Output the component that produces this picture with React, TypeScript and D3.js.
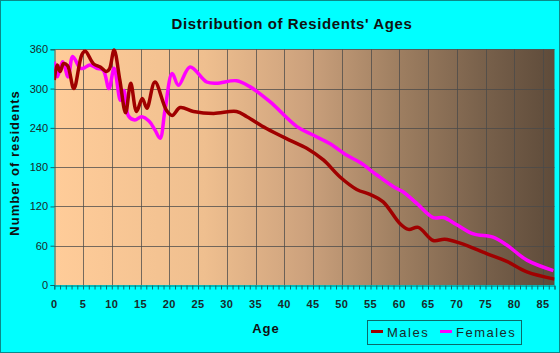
import React, { useEffect, useRef } from 'react';
import * as d3 from 'd3';

// values (age, residents)
const maleAges = [0, 0.5, 1, 1.6, 2.3, 3.4, 4.8, 5.4, 6.8, 8, 9.1, 9.6, 10.4, 11.4, 12.4, 13.3, 14.3, 15.3, 16.1, 17.5, 19.5, 20.5, 21.9, 24.2, 27.7, 31.7, 33.5, 36.9, 41, 43.9, 46.8, 49.7, 52.6, 55, 57.2, 60.1, 61.6, 63.3, 65.9, 67.9, 70.6, 75.2, 78.7, 82.2, 87];
const maleValues = [313, 336, 326, 338, 335, 300, 352, 357, 338, 333, 326, 330, 359, 313, 263, 308, 265, 285, 270, 310, 267, 259, 271, 265, 262, 265, 257, 239, 221, 209, 191, 165, 146, 138, 127, 94, 85, 88, 68, 70, 64, 48, 36, 20, 9];

const femaleAges = [0, 0.5, 1.45, 2.4, 3.2, 4.5, 5.05, 6.2, 7.4, 8.5, 9.5, 10.4, 11.5, 12.1, 12.9, 14, 15.2, 16.5, 17.5, 18.4, 19.25, 20.5, 21.6, 23.6, 26.5, 28.2, 31.7, 34, 37.5, 42.2, 45, 47.9, 50.9, 53.2, 56.1, 59, 60.7, 63, 65.9, 67.7, 70, 72.9, 76.3, 78.7, 82.2, 86.8];
const femaleValues = [341, 318, 341, 318, 349, 331, 331, 336, 331, 328, 300, 331, 282, 297, 258, 252, 257, 250, 237, 224, 267, 323, 305, 333, 310, 308, 312, 303, 280, 242, 229, 216, 198, 187, 168, 150, 142, 125, 103, 103, 92, 78, 73, 61, 38, 22];

const xTicks = [0, 5, 10, 15, 20, 25, 30, 35, 40, 45, 50, 55, 60, 65, 70, 75, 80, 85];
const yTicks = [0, 60, 120, 180, 240, 300, 360];
const seriesNames = ['Males', 'Females'];
const seriesColors = ['#a00000', '#ff00ff'];

const App: React.FC = () => {
  const svgRef = useRef<SVGSVGElement>(null);

  useEffect(() => {
    if (!svgRef.current) return;
    const svg = d3.select(svgRef.current);
    svg.selectAll('*').remove();

    const width = 560;
    const height = 353;
    const left = 54.3, right = 554.5, top = 49.3, bottom = 285;

    const x = d3.scaleLinear().domain([0, 87]).range([left, right]);
    const y = d3.scaleLinear().domain([0, 360]).range([bottom, top]);

    svg.attr('width', width).attr('height', height);

    // background
    svg.append('rect')
      .attr('x', 0.5).attr('y', 0.5)
      .attr('width', width - 1).attr('height', height - 1)
      .attr('fill', '#00ffff')
      .attr('stroke', '#0a8a8a');

    const defs = svg.append('defs');
    const grad = defs.append('linearGradient').attr('id', 'plotBg')
      .attr('x1', '0%').attr('x2', '100%').attr('y1', '0%').attr('y2', '0%');
    [
      ['0%', '#ffcc99'],
      ['30%', '#efbf8f'],
      ['50%', '#cda27d'],
      ['68%', '#a08062'],
      ['85%', '#7a624c'],
      ['100%', '#5e4b3a']
    ].forEach(([o, c]) => grad.append('stop').attr('offset', o).attr('stop-color', c));

    defs.append('clipPath').attr('id', 'plotClip')
      .append('rect')
      .attr('x', left).attr('y', top - 4)
      .attr('width', right - left).attr('height', bottom - top + 4);

    svg.append('rect')
      .attr('x', left).attr('y', top)
      .attr('width', right - left).attr('height', bottom - top)
      .attr('fill', 'url(#plotBg)');

    // grid
    const grid = svg.append('g').attr('stroke', '#4a4a4a').attr('stroke-opacity', 0.75).attr('stroke-width', 1);
    xTicks.filter(t => t > 0).forEach(t => {
      grid.append('line')
        .attr('x1', Math.round(x(t)) + 0.5).attr('x2', Math.round(x(t)) + 0.5)
        .attr('y1', top).attr('y2', bottom);
    });
    yTicks.filter(t => t > 0).forEach(t => {
      grid.append('line')
        .attr('x1', left).attr('x2', right)
        .attr('y1', Math.round(y(t)) + 0.5).attr('y2', Math.round(y(t)) + 0.5);
    });

    // axes
    const axisColor = '#0b6a6a';
    const xAxis = svg.append('g')
      .attr('transform', `translate(0,${Math.round(bottom) + 0.5})`)
      .call(d3.axisBottom(x).tickValues(d3.range(0, 88, 1)).tickSize(4).tickFormat(() => ''));
    xAxis.select('.domain').attr('stroke', axisColor);
    xAxis.selectAll('line').attr('stroke', axisColor);

    const yAxis = svg.append('g')
      .attr('transform', `translate(${Math.round(left) + 0.5},0)`)
      .call(d3.axisLeft(y).tickValues(yTicks).tickSize(4).tickFormat(() => ''));
    yAxis.select('.domain').attr('stroke', axisColor);
    yAxis.selectAll('line').attr('stroke', axisColor);

    const font = 'Liberation Sans, Arial, sans-serif';

    svg.append('g').selectAll('text')
      .data(yTicks).enter().append('text')
      .attr('x', 48).attr('y', d => y(d) + 4)
      .attr('text-anchor', 'end')
      .attr('font-family', font).attr('font-size', 11)
      .attr('fill', '#1a2a2a')
      .text(d => d);

    svg.append('g').selectAll('text')
      .data(xTicks).enter().append('text')
      .attr('x', d => x(d)).attr('y', 308)
      .attr('text-anchor', 'middle')
      .attr('font-family', font).attr('font-size', 11).attr('font-weight', 'bold')
      .attr('letter-spacing', 0.5)
      .attr('fill', '#1a2a2a')
      .text(d => d);

    // lines
    const line = d3.line<[number, number]>()
      .x(d => x(d[0])).y(d => y(d[1]))
      .curve(d3.curveCatmullRom.alpha(0.5));

    const lines = svg.append('g').attr('clip-path', 'url(#plotClip)');
    const maleData = maleAges.map((a, i) => [a, maleValues[i]] as [number, number]);
    const femaleData = femaleAges.map((a, i) => [a, femaleValues[i]] as [number, number]);
    [femaleData, maleData].forEach((data, i) => {
      lines.append('path')
        .datum(data)
        .attr('d', line)
        .attr('fill', 'none')
        .attr('stroke', i === 0 ? seriesColors[1] : seriesColors[0])
        .attr('stroke-width', 3.5)
        .attr('stroke-linejoin', 'round');
    });

    // titles
    svg.append('text')
      .attr('x', 292).attr('y', 29)
      .attr('text-anchor', 'middle')
      .attr('font-family', font).attr('font-size', 15).attr('font-weight', 'bold')
      .attr('letter-spacing', 0.6)
      .attr('fill', '#111')
      .text("Distribution of Residents' Ages");

    svg.append('text')
      .attr('x', 266).attr('y', 333)
      .attr('text-anchor', 'middle')
      .attr('font-family', font).attr('font-size', 13).attr('font-weight', 'bold')
      .attr('letter-spacing', 1)
      .attr('fill', '#111')
      .text('Age');

    svg.append('text')
      .attr('transform', `translate(19,163) rotate(-90)`)
      .attr('text-anchor', 'middle')
      .attr('font-family', font).attr('font-size', 13).attr('font-weight', 'bold')
      .attr('letter-spacing', 1)
      .attr('fill', '#111')
      .text('Number of residents');

    // legend
    const legend = svg.append('g');
    legend.append('rect')
      .attr('x', 367.5).attr('y', 320.5)
      .attr('width', 154).attr('height', 24)
      .attr('fill', 'none').attr('stroke', '#0b6a6a');
    const legendX = [371, 440];
    seriesNames.forEach((name, i) => {
      legend.append('line')
        .attr('x1', legendX[i]).attr('x2', legendX[i] + 12)
        .attr('y1', 331.5).attr('y2', 331.5)
        .attr('stroke', seriesColors[i]).attr('stroke-width', 3);
      legend.append('text')
        .attr('x', legendX[i] + 16).attr('y', 336.5)
        .attr('font-family', font).attr('font-size', 13)
        .attr('letter-spacing', 1.5)
        .attr('fill', '#1a2a2a')
        .text(name);
    });
  }, []);

  return (
    <svg ref={svgRef} style={{ position: 'absolute', left: 0, top: 0, display: 'block' }}></svg>
  );
};

export default App;
